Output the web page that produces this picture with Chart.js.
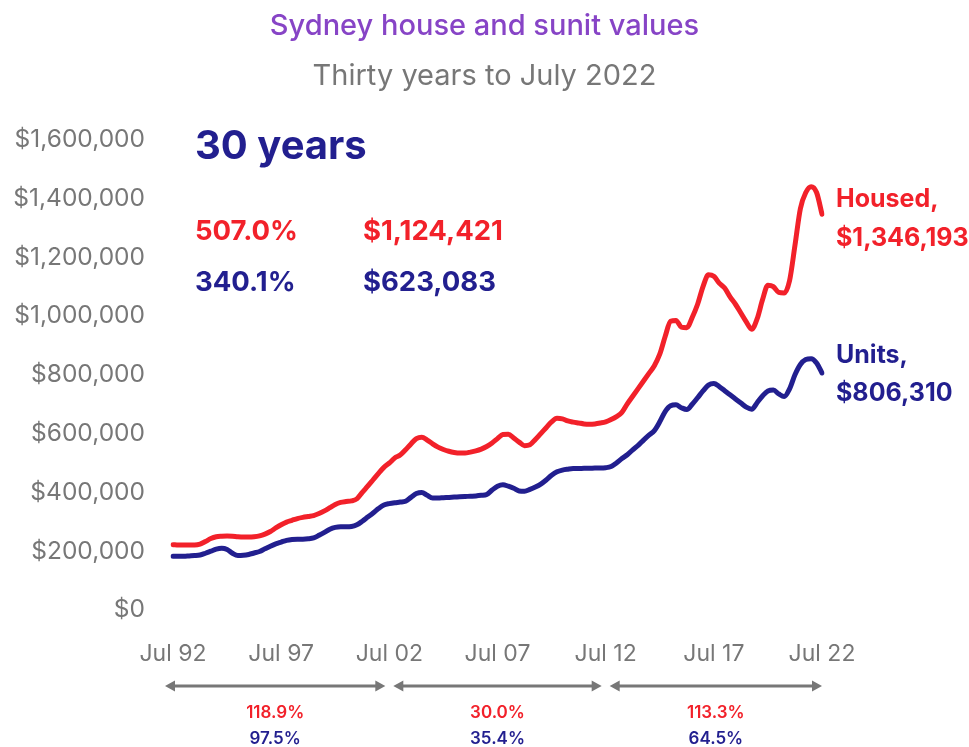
<!DOCTYPE html>
<html>
<head>
<meta charset="utf-8">
<script src="https://cdn.jsdelivr.net/npm/chart.js@4/dist/chart.umd.min.js"></script>
<style>
  html, body { margin: 0; background: #fff; }
</style>
</head>
<body>
<canvas id="valuesChart" width="969" height="747"></canvas>
<script>
const RED = '#f2212a';
const NAVY = '#221f8f';
const GREY = '#777777';
const FONT = 'Inter, "Noto Sans", sans-serif';

// tick labels shown on the x axis
const tickLabels = ['Jul 92', 'Jul 97', 'Jul 02', 'Jul 07', 'Jul 12', 'Jul 17', 'Jul 22'];

// quarterly median values, $ thousands (Jul, Oct, Jan, Apr per row)
const houseValues = [
  222, 221, 221, 221,
  221, 224, 233, 243,
  249, 251, 252, 251,
  249, 248, 248, 249,
  252, 258, 267, 279,
  290, 299, 305, 311,
  315, 318, 321, 328,
  337, 348, 359, 366,
  369, 371, 378, 400,
  421, 443, 465, 485,
  500, 517, 527, 545,
  565, 583, 588, 578,
  565, 554, 546, 540,
  536, 534, 534, 537,
  541, 547, 556, 568,
  583, 597, 598, 585,
  571, 559, 562, 580,
  600, 620, 640, 652,
  650, 643, 639, 636,
  633, 632, 633, 636,
  640, 648, 658, 672,
  701, 727, 753, 779,
  805, 831, 870, 930,
  982, 985, 962, 960,
  995, 1040, 1100, 1140,
  1135, 1112, 1095, 1065,
  1040, 1010, 980, 955,
  990, 1055, 1105, 1100,
  1080, 1078, 1120, 1240,
  1365, 1420, 1440, 1420,
  1346.193
];

const unitValues = [
  183, 183, 183, 184,
  185, 187, 193, 200,
  207, 210, 206, 193,
  185, 186, 189, 194,
  199, 208, 217, 225,
  231, 237, 240, 241,
  241, 242, 245, 254,
  264, 275, 281, 283,
  283, 284, 290, 302,
  316, 330, 345, 357,
  362, 365, 367, 370,
  383, 396, 400, 390,
  381, 381, 382, 383,
  384, 385, 386, 387,
  388, 390, 393, 408,
  421, 426, 421, 414,
  405, 404, 410, 418,
  428, 442, 458, 470,
  476, 479, 481, 481,
  482, 482, 483, 483,
  484, 488, 500, 515,
  528, 545, 560, 578,
  595, 610, 640, 675,
  695, 698, 688, 682,
  700, 722, 745, 765,
  770, 760, 746, 732,
  718, 704, 690, 683,
  705, 728, 745, 748,
  735, 726, 752, 800,
  835, 852, 855, 840,
  806.310
];

// period growth figures under the axis
const periodHouse = ['118.9%', '30.0%', '113.3%'];
const periodUnits = ['97.5%', '35.4%', '64.5%'];

// quarter labels, Jul 92 .. Jul 22
const months = ['Jul', 'Oct', 'Jan', 'Apr'];
const quarters = [];
for (let i = 0; i < houseValues.length; i++) {
  const yr = 1992 + Math.floor((i + 2) / 4);
  quarters.push(months[i % 4] + ' ' + String(yr).slice(2));
}

function drawArrow(ctx, x1, x2, y) {
  ctx.beginPath();
  ctx.moveTo(x1 + 4, y);
  ctx.lineTo(x2 - 4, y);
  ctx.stroke();
  ctx.beginPath();
  ctx.moveTo(x1, y);
  ctx.lineTo(x1 + 10, y - 5.5);
  ctx.lineTo(x1 + 10, y + 5.5);
  ctx.closePath();
  ctx.fill();
  ctx.beginPath();
  ctx.moveTo(x2, y);
  ctx.lineTo(x2 - 10, y - 5.5);
  ctx.lineTo(x2 - 10, y + 5.5);
  ctx.closePath();
  ctx.fill();
}

const notesPlugin = {
  id: 'notes',
  afterDraw(chart) {
    const ctx = chart.ctx;
    const xs = chart.scales.x;
    ctx.save();
    ctx.textBaseline = 'middle';
    ctx.textAlign = 'left';

    ctx.fillStyle = NAVY;
    ctx.font = 'bold 40px ' + FONT;
    ctx.fillText('30 years', 195, 147);

    ctx.font = 'bold 27.5px ' + FONT;
    ctx.fillStyle = RED;
    ctx.fillText('507.0%', 195, 232);
    ctx.fillText('$1,124,421', 363, 232);
    ctx.fillStyle = NAVY;
    ctx.fillText('340.1%', 195, 283);
    ctx.fillText('$623,083', 363, 283);

    ctx.font = 'bold 25px ' + FONT;
    ctx.fillStyle = RED;
    ctx.fillText('Housed,', 836, 199);
    ctx.fillText('$1,346,193', 836, 238);
    ctx.fillStyle = NAVY;
    ctx.fillText('Units,', 836, 355);
    ctx.fillText('$806,310', 836, 393);

    // ten-year periods
    const bounds = [0, 40, 80, 120];
    ctx.lineWidth = 3;
    ctx.textAlign = 'center';
    for (let p = 0; p < 3; p++) {
      const a = xs.getPixelForValue(bounds[p]);
      const b = xs.getPixelForValue(bounds[p + 1]);
      const x1 = p === 0 ? a - 8 : a + 4;
      const x2 = p === 2 ? b : b - 4;
      ctx.strokeStyle = GREY;
      ctx.fillStyle = GREY;
      drawArrow(ctx, x1, x2, 686);
      const mid = (x1 + x2) / 2;
      ctx.font = '600 17px ' + FONT;
      ctx.fillStyle = RED;
      ctx.fillText(periodHouse[p], mid, 713);
      ctx.fillStyle = NAVY;
      ctx.fillText(periodUnits[p], mid, 739);
    }
    ctx.restore();
  }
};

new Chart(document.getElementById('valuesChart'), {
  type: 'line',
  data: {
    labels: quarters,
    datasets: [
      {
        label: 'Houses',
        data: houseValues.map(v => v * 1000),
        borderColor: RED,
        borderWidth: 5,
        pointRadius: 0,
        cubicInterpolationMode: 'monotone',
        borderCapStyle: 'round'
      },
      {
        label: 'Units',
        data: unitValues.map(v => v * 1000),
        borderColor: NAVY,
        borderWidth: 5,
        pointRadius: 0,
        cubicInterpolationMode: 'monotone',
        borderCapStyle: 'round'
      }
    ]
  },
  options: {
    responsive: false,
    animation: false,
    layout: { padding: { left: 0, right: 0, top: 0, bottom: 78 } },
    plugins: {
      legend: { display: false },
      tooltip: { enabled: false },
      title: {
        display: true,
        text: 'Sydney house and sunit values',
        color: '#8744c6',
        font: { family: FONT, size: 29, weight: '500' },
        padding: { top: 9, bottom: 10 }
      },
      subtitle: {
        display: true,
        text: 'Thirty years to July 2022',
        color: GREY,
        font: { family: FONT, size: 29, weight: 'normal' },
        padding: { top: 5, bottom: 46 }
      }
    },
    scales: {
      x: {
        grid: { display: false, drawTicks: false },
        border: { display: false },
        afterFit(scale) { scale.height = 59; },
        ticks: {
          autoSkip: false,
          maxRotation: 0,
          padding: 30,
          color: GREY,
          font: { family: FONT, size: 23 },
          callback(value) {
            const l = this.getLabelForValue(value);
            return tickLabels.includes(l) ? l : '';
          }
        }
      },
      y: {
        min: 0,
        max: 1600000,
        grid: { display: false, drawTicks: false },
        border: { display: false },
        afterFit(scale) { scale.width = 173; },
        ticks: {
          stepSize: 200000,
          padding: 28,
          color: GREY,
          font: { family: FONT, size: 24.5 },
          callback: v => '$' + v.toLocaleString('en-US')
        }
      },
      // empty right-hand strip that holds the end labels
      side: {
        position: 'right',
        grid: { display: false, drawTicks: false },
        border: { display: false },
        ticks: { display: false },
        afterFit(scale) { scale.width = 147; }
      }
    }
  },
  plugins: [notesPlugin]
});
</script>
</body>
</html>
